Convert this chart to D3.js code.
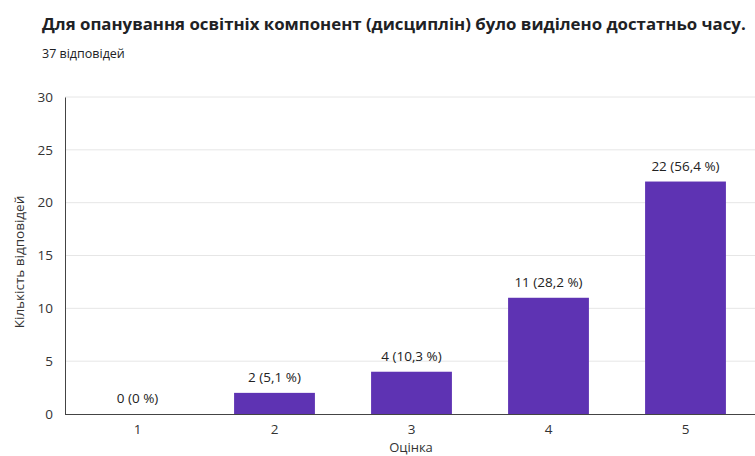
<!DOCTYPE html>
<html><head><meta charset="utf-8">
<script src="https://cdn.jsdelivr.net/npm/d3@7"></script>
<style>body{margin:0;background:#fff}svg{display:block;font-family:"Open Sans","Noto Sans",sans-serif}</style>
</head><body><svg id="c" width="755" height="456"></svg>
<script>
const categories = ["1","2","3","4","5"];
const counts = [0, 2, 4, 11, 22];
const labels = ["0 (0 %)","2 (5,1 %)","4 (10,3 %)","11 (28,2 %)","22 (56,4 %)"];
const yTicks = [0,5,10,15,20,25,30];
const title = "Для опанування освітніх компонент (дисциплін) було виділено достатньо часу.";
const subtitle = "37 відповідей";
const yTitle = "Кількість відповідей";
const xTitle = "Оцінка";

const svg = d3.select("#c");
const x = d3.scaleBand().domain(categories).range([69, 754]).paddingInner(0.41).paddingOuter(0.205);
const y = d3.scaleLinear().domain([0, 30]).range([414, 97]);

const t = svg.append("text").attr("x", 42).attr("y", 30).attr("font-size", 18).attr("font-weight", 700)
  .attr("fill", "#202124").text(title);
const w = t.node().getComputedTextLength();
if (w > 704) t.attr("font-size", 18 * 704 / w);
svg.append("text").attr("x", 42).attr("y", 58).attr("font-size", 12.5).attr("fill", "#202124").text(subtitle);

// grid
svg.append("g").selectAll("line").data(yTicks.filter(d => d > 0)).join("line")
  .attr("x1", 65).attr("x2", 755).attr("y1", d => y(d)).attr("y2", d => y(d))
  .attr("stroke", "#e6e6e6").attr("stroke-width", 1);

// y axis
const ya = svg.append("g").attr("transform", "translate(65,0)")
  .call(d3.axisLeft(y).tickValues(yTicks).tickSize(0).tickPadding(12));
ya.select(".domain").attr("stroke", "#444");
ya.selectAll("text").attr("font-size", 13.5).attr("fill", "#333").attr("font-family", "'Open Sans','Noto Sans',sans-serif");

// bars
svg.append("g").selectAll("rect").data(counts).join("rect")
  .attr("x", (d, i) => x(categories[i])).attr("width", x.bandwidth())
  .attr("y", d => y(d)).attr("height", d => y(0) - y(d)).attr("fill", "#5e33b3");

// value labels
svg.append("g").selectAll("text").data(counts).join("text")
  .attr("x", (d, i) => x(categories[i]) + x.bandwidth() / 2).attr("y", d => y(d) - 11)
  .attr("text-anchor", "middle").attr("font-size", 13.5).attr("fill", "#222").text((d, i) => labels[i]);

// x axis
const xa = svg.append("g").attr("transform", "translate(0,414)")
  .call(d3.axisBottom(x).tickSize(0).tickPadding(10));
xa.select(".domain").attr("d", "M65,0.5H755").attr("stroke", "#444");
xa.selectAll("text").attr("font-size", 13.5).attr("fill", "#333").attr("font-family", "'Open Sans','Noto Sans',sans-serif");

svg.append("text").attr("x", 411).attr("y", 452).attr("text-anchor", "middle").attr("font-size", 13).attr("fill", "#333").text(xTitle);
svg.append("text").attr("transform", "translate(24,262) rotate(-90)").attr("text-anchor", "middle")
  .attr("font-size", 13.5).attr("fill", "#333").text(yTitle);
</script></body></html>
